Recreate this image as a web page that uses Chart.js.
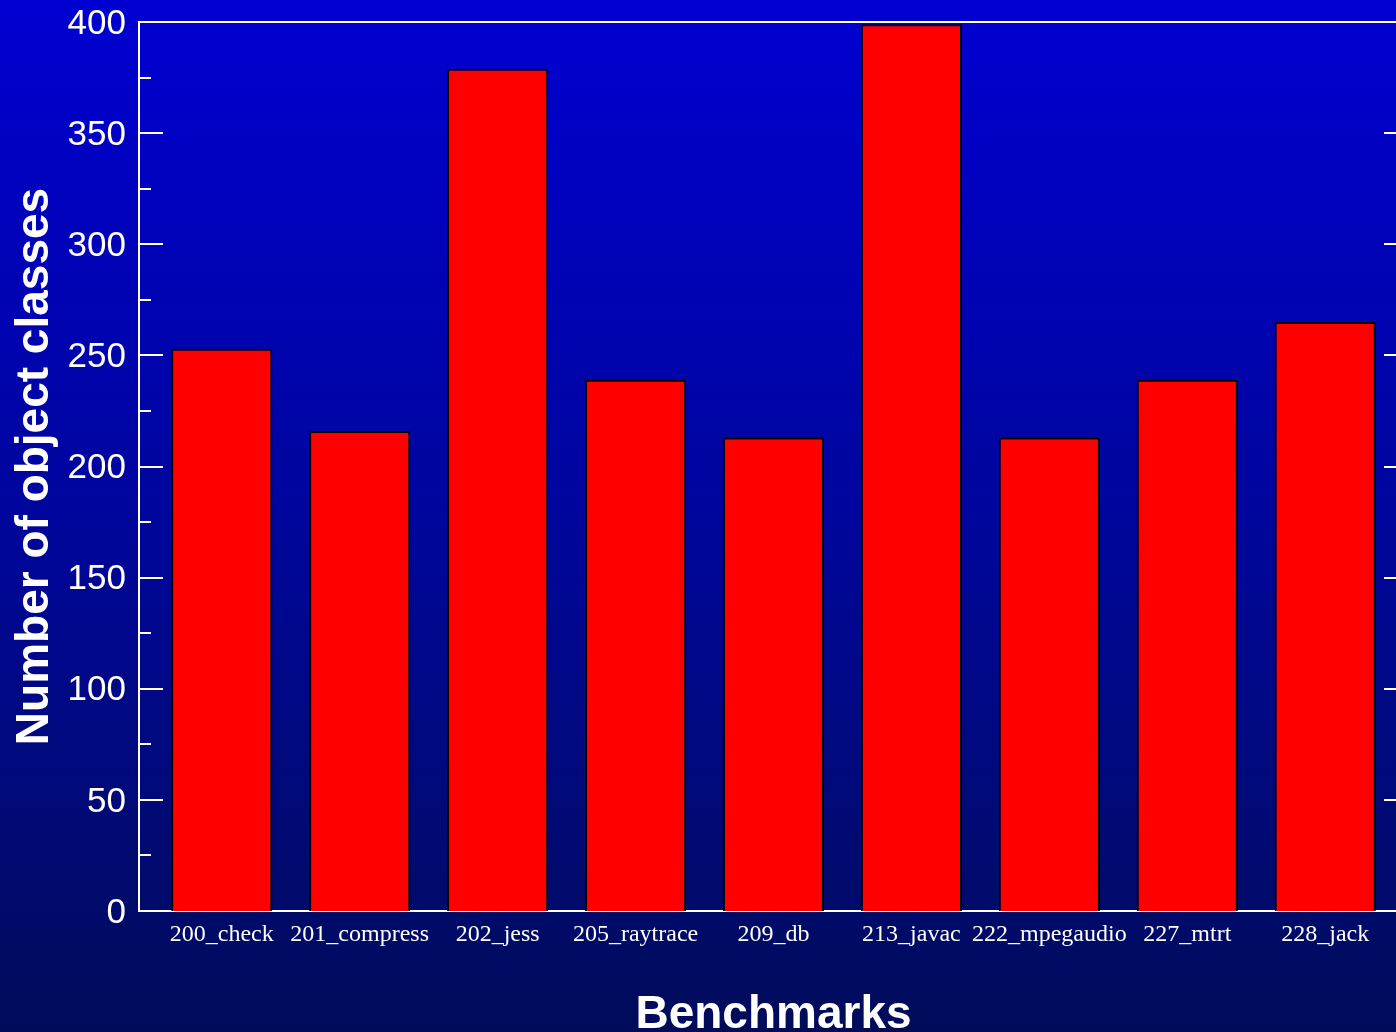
<!DOCTYPE html>
<html><head><meta charset="utf-8">
<script src="https://cdn.jsdelivr.net/npm/chart.js@4/dist/chart.umd.min.js"></script>
<style>
html,body{margin:0;padding:0;overflow:hidden;background:#000a5c;width:1396px;height:1032px}
#wrap{position:absolute;left:0;top:0;width:1408px;height:1032px}
canvas{display:block}
</style>
</head><body><div id="wrap"><canvas id="c" width="1408" height="1032"></canvas></div>
<script>
const categories = ['200_check','201_compress','202_jess','205_raytrace','209_db','213_javac','222_mpegaudio','227_mtrt','228_jack'];
const classCounts = [253, 216, 379, 239, 213, 399, 213, 239, 265];
const yTickValues = [0, 50, 100, 150, 200, 250, 300, 350, 400];
const yMinorTickValues = [25, 75, 125, 175, 225, 275, 325, 375];

const bgPlugin = {
  id: 'bg',
  beforeDraw(chart) {
    const {ctx, width, height} = chart;
    const g = ctx.createLinearGradient(0, 0, 0, height);
    g.addColorStop(0, '#0000d2');
    g.addColorStop(0.5, '#00069c');
    g.addColorStop(1, '#000c5a');
    ctx.save();
    ctx.fillStyle = g;
    ctx.fillRect(0, 0, width, height);
    ctx.restore();
  }
};

const frameTicks = {
  id: 'frameTicks',
  afterDatasetsDraw(chart) {
    const {ctx, chartArea: a, scales: {y}} = chart;
    ctx.save();
    ctx.strokeStyle = '#ffffff';
    ctx.lineWidth = 2;
    const draw = (vals, len) => {
      vals.forEach(v => {
        const p = Math.round(y.getPixelForValue(v));
        ctx.beginPath();
        ctx.moveTo(a.left, p); ctx.lineTo(a.left + len, p);
        ctx.moveTo(a.right, p); ctx.lineTo(a.right - len, p);
        ctx.stroke();
      });
    };
    draw(yTickValues, 24);
    draw(yMinorTickValues, 12);
    ctx.beginPath();
    ctx.moveTo(a.left - 1, a.top); ctx.lineTo(a.right, a.top);
    ctx.stroke();
    ctx.restore();
  }
};

new Chart(document.getElementById('c'), {
  type: 'bar',
  data: {
    datasets: [{
      data: classCounts.map((v, i) => ({x: i, y: v})),
      backgroundColor: '#ff0000',
      borderColor: '#000000',
      borderWidth: 2,
      barPercentage: 0.733,
      categoryPercentage: 1
    }]
  },
  options: {
    responsive: false,
    animation: false,
    layout: {padding: {top: 22, left: 0, right: 0, bottom: 0}},
    plugins: {legend: {display: false}, tooltip: {enabled: false}},
    scales: {
      x: {
        type: 'linear',
        min: -0.6,
        max: 8.6,
        offset: false,
        grid: {display: false, drawTicks: false},
        border: {display: true, color: '#ffffff', width: 2},
        afterBuildTicks: s => { s.ticks = categories.map((_, i) => ({value: i})); },
        afterFit: s => { s.height = 121; s.paddingLeft = 0; s.paddingRight = 0; },
        ticks: {
          autoSkip: false, maxRotation: 0, minRotation: 0,
          color: '#ffffff',
          padding: 9,
          font: {family: "'Liberation Serif', 'Times New Roman', serif", size: 24},
          callback: v => categories[v]
        },
        title: {
          display: true, text: 'Benchmarks', color: '#ffffff',
          font: {family: "'Liberation Sans', Arial, sans-serif", size: 46, weight: 'bold', lineHeight: 0.74},
          padding: {top: 0, bottom: 0}
        }
      },
      y: {
        min: 0, max: 400,
        grid: {display: false, drawTicks: false},
        border: {display: true, color: '#ffffff', width: 2},
        afterBuildTicks: s => { s.ticks = yTickValues.map(v => ({value: v})); },
        afterFit: s => { s.width = 139; s.paddingTop = 0; s.paddingBottom = 0; },
        ticks: {
          color: '#ffffff',
          padding: 13,
          labelOffset: 2,
          font: {family: "'Liberation Sans', Arial, sans-serif", size: 35}
        },
        title: {
          display: true, text: 'Number of object classes', color: '#ffffff',
          font: {family: "'Liberation Sans', Arial, sans-serif", size: 46, weight: 'bold', lineHeight: 1.2},
          padding: {top: 8, bottom: 0}
        }
      }
    }
  },
  plugins: [bgPlugin, frameTicks]
});
</script>
</body></html>
